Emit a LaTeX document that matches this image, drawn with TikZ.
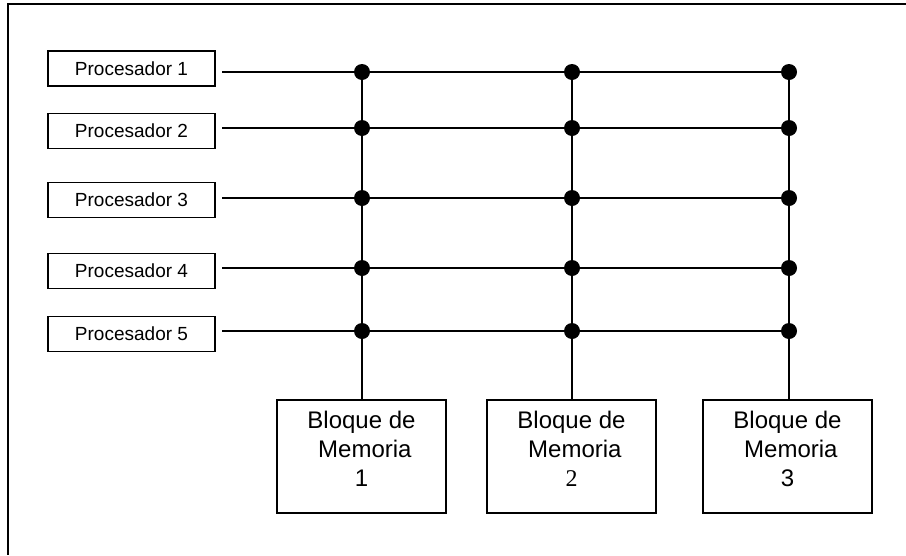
\documentclass[tikz,border=0pt]{standalone}
\usepackage{fontspec}
\setmainfont{Liberation Sans}
\newfontfamily\serifdigit{Liberation Serif}
\begin{document}
\begin{tikzpicture}[x=1pt,y=-1pt,
  procbox/.style={draw,line width=1.6pt,minimum width=167pt,minimum height=35pt,
    inner sep=0pt,font=\fontsize{19}{22}\selectfont},
  membox/.style={draw,line width=1.6pt,minimum width=169pt,minimum height=113pt,inner sep=0pt},
  memtext/.style={align=center,inner sep=0pt,font=\fontsize{24}{29}\selectfont},
  junction/.style={circle,fill=black,minimum size=16pt,inner sep=0pt},
  bus/.style={line width=2pt}]
\useasboundingbox (0,0) rectangle (906,555);
% outer frame (only top and left edges fall inside the page)
\draw[line width=2pt] (906,4) -- (8,4) -- (8,555);

% processors
\node[procbox] (p1) at (131.5,68.5) {Procesador 1};
\node[procbox] (p2) at (131.5,131)  {Procesador 2};
\node[procbox] (p3) at (131.5,200)  {Procesador 3};
\node[procbox] (p4) at (131.5,271)  {Procesador 4};
\node[procbox] (p5) at (131.5,334)  {Procesador 5};

% memory blocks
\node[membox] (m1) at (361.5,456.5) {};
\node[membox] (m2) at (571.5,456.5) {};
\node[membox] (m3) at (787.5,456.5) {};
\node[memtext] (t1) at (361.5,449) {Bloque de\\\hspace*{0.28em}Memoria\\1};
\node[memtext] (t2) at (571.5,449) {Bloque de\\\hspace*{0.28em}Memoria\\{\serifdigit 2}};
\node[memtext] (t3) at (787.5,449) {Bloque de\\\hspace*{0.28em}Memoria\\3};

% bus rows and crossbar junctions
\foreach \r/\y in {1/72,2/128,3/198,4/268,5/331}{
  \coordinate (s\r) at (222,\y);
  \node[junction] (d\r a) at (362,\y) {};
  \node[junction] (d\r b) at (572,\y) {};
  \node[junction] (d\r c) at (789,\y) {};
  \draw[bus] (s\r) -- (d\r c.center);
}
% columns down to the memory blocks
\draw[bus] (d1a.center) -- (d1a.center |- m1.north);
\draw[bus] (d1b.center) -- (d1b.center |- m2.north);
\draw[bus] (d1c.center) -- (d1c.center |- m3.north);
\end{tikzpicture}
\end{document}
